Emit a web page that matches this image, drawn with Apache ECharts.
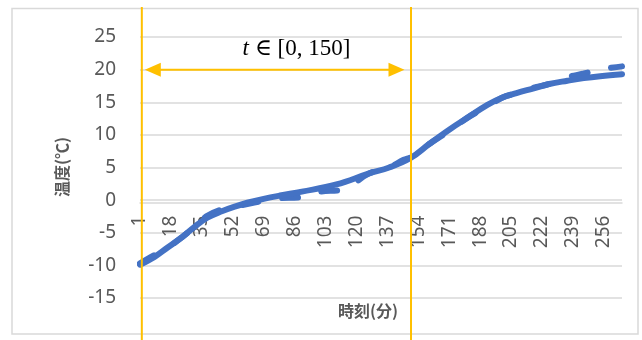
<!DOCTYPE html>
<html><head><meta charset="utf-8">
<script src="https://cdn.jsdelivr.net/npm/echarts@6/dist/echarts.min.js"></script>
<style>html,body{margin:0;padding:0;background:#fff}#c{width:642px;height:340px}</style>
</head><body><div id="c"></div>
<script>
// categories: minutes 1..266 (index sequence for the category axis)
const categories = Array.from({length: 266}, (_, i) => String(i + 1));
const xTickLabels = ['1','18','35','52','69','86','103','120','137','154','171','188','205','222','239','256'];
const yTicks = [-15, -10, -5, 0, 5, 10, 15, 20, 25];

// solid series
const solidT = [1, 9, 16, 24, 31, 38, 46, 53, 60, 69, 78, 90, 109, 127, 138, 150, 160, 171, 182, 192, 200, 208, 217, 226, 236, 245, 254, 266];
const solidV = [-9.9, -8.7, -7.3, -5.7, -4.1, -2.7, -1.7, -1.0, -0.4, 0.2, 0.7, 1.3, 2.4, 4.1, 5.0, 6.5, 8.6, 10.8, 12.8, 14.6, 15.7, 16.4, 17.1, 17.8, 18.3, 18.7, 19.0, 19.3];

// dashed series
const dashT = [1, 9, 16, 24, 31, 38, 46, 53, 60, 69, 78, 88, 100, 112, 127, 138, 146, 150, 160, 171, 182, 192, 200, 208, 217, 226, 234, 245, 256, 266];
const dashV = [-9.7, -8.4, -7.3, -5.7, -4.1, -2.4, -1.4, -1.0, -0.6, -0.1, 0.3, 0.4, 1.3, 1.6, 4.1, 5.0, 6.2, 6.6, 8.6, 10.6, 12.8, 14.3, 15.7, 16.4, 17.2, 17.8, 18.7, 19.4, 20.1, 20.5];

// annotation
const rangeStart = '2', rangeEnd = '150', arrowLevel = 20;
const rangeLabelParts = ['t', ' ∈ [0, 150]'];
const labelAt = ['87', 23.1];
const xAxisCross = 0;

const yTitle = '温度(℃)';
const xTitle = '時刻(分)';

const GRAY = '#595959', GRID = '#D9D9D9', BLUE = '#4472C4', ORANGE = '#FFC000';
const FONT = '"Noto Sans", "Noto Sans CJK JP", sans-serif';

const chart = echarts.init(document.getElementById('c'), null, {renderer: 'canvas'});
chart.setOption({
  animation: false,
  backgroundColor: '#fff',
  grid: {left: 140, right: 20, top: 37, bottom: 42, containLabel: false},
  xAxis: {
    type: 'category', data: categories, boundaryGap: false, position: 'bottom', offset: 0,
    axisLine: {onZero: false, lineStyle: {color: GRID, width: 1.5}},
    axisTick: {show: false},
    splitLine: {show: false},
    axisLabel: {
      interval: (idx, val) => xTickLabels.includes(val),
      rotate: 90, margin: 13, color: GRAY, fontSize: 19, fontFamily: FONT
    }
  },
  yAxis: {
    type: 'value', min: yTicks[0], max: yTicks[yTicks.length - 1], interval: 5,
    axisLine: {show: false}, axisTick: {show: false},
    splitLine: {lineStyle: {color: GRID, width: 1.5}},
    axisLabel: {margin: 24, color: GRAY, fontSize: 19, fontFamily: FONT}
  },
  series: [
    {
      type: 'line', data: dashT.map((t, i) => [String(t), dashV[i]]),
      showSymbol: false, smooth: 0.4, z: 2,
      lineStyle: {color: BLUE, width: 6, type: [16, 24], cap: 'round'}
    },
    {
      type: 'line', data: solidT.map((t, i) => [String(t), solidV[i]]),
      showSymbol: false, smooth: 0.4, z: 3,
      lineStyle: {color: BLUE, width: 6, cap: 'round', join: 'round'}
    }
  ]
});

// move the x axis (line + labels) up to cross the y axis at 0
const yZero = chart.convertToPixel({yAxisIndex: 0}, xAxisCross);
const yBottom = chart.convertToPixel({yAxisIndex: 0}, yTicks[0]);
chart.setOption({xAxis: {offset: yZero - yBottom}});

const x0 = chart.convertToPixel({xAxisIndex: 0}, rangeStart);
const x1 = chart.convertToPixel({xAxisIndex: 0}, rangeEnd);
const ya = chart.convertToPixel({yAxisIndex: 0}, arrowLevel);
const lp = chart.convertToPixel({gridIndex: 0}, labelAt);
const tipL = x0 + 3, tipR = x1 - 6.5, ah = 16, aw = 7;

chart.setOption({
  graphic: [
    {type: 'rect', z: 0, silent: true, shape: {x: 12, y: 8.5, width: 626, height: 325.5},
      style: {fill: null, stroke: GRID, lineWidth: 1.5}},
    {type: 'line', z: 100, shape: {x1: x0, y1: 7, x2: x0, y2: 340}, style: {stroke: ORANGE, lineWidth: 2}},
    {type: 'line', z: 100, shape: {x1: x1, y1: 7, x2: x1, y2: 340}, style: {stroke: ORANGE, lineWidth: 2}},
    {type: 'line', z: 100, shape: {x1: tipL + ah - 2, y1: ya, x2: tipR - ah + 2, y2: ya}, style: {stroke: ORANGE, lineWidth: 2}},
    {type: 'polygon', z: 100, shape: {points: [[tipL, ya], [tipL + ah, ya - aw], [tipL + ah, ya + aw]]}, style: {fill: ORANGE}},
    {type: 'polygon', z: 100, shape: {points: [[tipR, ya], [tipR - ah, ya - aw], [tipR - ah, ya + aw]]}, style: {fill: ORANGE}},
    {type: 'text', z: 100, x: lp[0], y: lp[1],
      style: {text: '{i|' + rangeLabelParts[0] + '}{n|' + rangeLabelParts[1] + '}', align: 'center', verticalAlign: 'middle',
        rich: {
          i: {fontStyle: 'italic', fontFamily: '"Liberation Serif", serif', fontSize: 23, fill: '#000'},
          n: {fontFamily: '"Liberation Serif", "DejaVu Serif", serif', fontSize: 23, fill: '#000'}
        }}},
    {type: 'text', z: 100, x: 62, y: 167, rotation: Math.PI / 2,
      style: {text: yTitle, align: 'center', verticalAlign: 'middle', fill: GRAY, fontSize: 16, fontWeight: 'bold', fontFamily: '"Noto Sans CJK JP", sans-serif'}},
    {type: 'text', z: 100, x: 368, y: 311,
      style: {text: xTitle, align: 'center', verticalAlign: 'middle', fill: GRAY, fontSize: 16, fontWeight: 'bold', fontFamily: '"Noto Sans CJK JP", sans-serif'}}
  ]
});
</script></body></html>
